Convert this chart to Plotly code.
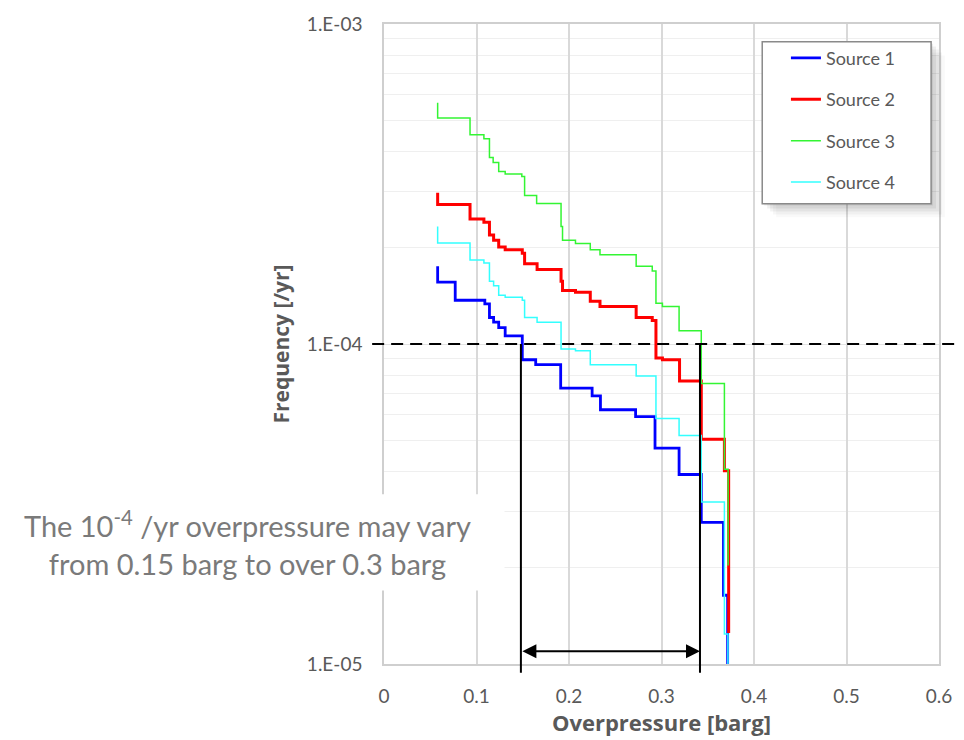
import math
import plotly.graph_objects as go

# ---------------- data ----------------
series_names = ["Source 1", "Source 2", "Source 3", "Source 4"]

src1_x = [0.058, 0.058, 0.077, 0.109, 0.114, 0.1185, 0.124, 0.131, 0.1495, 0.164, 0.191,
          0.225, 0.234, 0.272, 0.293, 0.319, 0.343, 0.367, 0.3715]
src1_y = [1.75e-4, 1.56e-4, 1.37e-4, 1.335e-4, 1.21e-4, 1.17e-4, 1.125e-4, 1.06e-4, 8.93e-5, 8.62e-5, 7.28e-5,
          6.88e-5, 6.23e-5, 5.93e-5, 4.73e-5, 3.91e-5, 2.77e-5, 1.64e-5, 9e-6]

src2_x = [0.058, 0.058, 0.093, 0.108, 0.114, 0.1185, 0.124, 0.131, 0.1495, 0.152, 0.1655, 0.1914,
          0.193, 0.207, 0.223, 0.2335, 0.2726, 0.290, 0.294, 0.301, 0.3195, 0.343, 0.368, 0.3726]
src2_y = [2.97e-4, 2.73e-4, 2.46e-4, 2.40e-4, 2.19e-4, 2.11e-4, 2.01e-4, 1.97e-4, 1.92e-4, 1.78e-4, 1.71e-4, 1.57e-4,
          1.47e-4, 1.45e-4, 1.36e-4, 1.31e-4, 1.21e-4, 1.185e-4, 9.04e-5, 8.93e-5, 7.66e-5, 5.04e-5, 4.02e-5, 1.25e-5]

src3_x = [0.058, 0.058, 0.093, 0.108, 0.114, 0.118, 0.124, 0.131, 0.149, 0.152, 0.165, 0.1914,
          0.193, 0.207, 0.223, 0.2335, 0.2726, 0.290, 0.294, 0.301, 0.319, 0.343, 0.368, 0.372]
src3_y = [5.67e-4, 5.08e-4, 4.51e-4, 4.38e-4, 3.83e-4, 3.69e-4, 3.46e-4, 3.40e-4, 3.34e-4, 2.91e-4, 2.75e-4, 2.33e-4,
          2.11e-4, 2.06e-4, 1.97e-4, 1.90e-4, 1.75e-4, 1.69e-4, 1.34e-4, 1.31e-4, 1.10e-4, 7.52e-5, 4.06e-5, 2.03e-5]

src4_x = [0.058, 0.058, 0.093, 0.108, 0.114, 0.1185, 0.124, 0.131, 0.1495, 0.152, 0.1655, 0.1914,
          0.207, 0.223, 0.2726, 0.294, 0.319, 0.343, 0.368, 0.3718]
src4_y = [2.33e-4, 2.07e-4, 1.83e-4, 1.79e-4, 1.57e-4, 1.52e-4, 1.42e-4, 1.40e-4, 1.37e-4, 1.21e-4, 1.17e-4, 9.64e-5,
          9.52e-5, 8.62e-5, 7.94e-5, 5.85e-5, 5.18e-5, 3.21e-5, 1.24e-5, 9e-6]

x_ticks = [0, 0.1, 0.2, 0.3, 0.4, 0.5, 0.6]
x_ticklabels = ["0", "0.1", "0.2", "0.3", "0.4", "0.5", "0.6"]
y_ticks = [1e-5, 1e-4, 1e-3]
y_ticklabels = ["1.E-05", "1.E-04", "1.E-03"]

threshold = 1e-4
range_low = 0.148
range_high = 0.3416
x_range = [0, 0.6]
y_range = [1e-5, 1e-3]

# ---------------- style ----------------
FONT = "Lato, 'Open Sans', sans-serif"
TITLE_FONT = "'Open Sans', Lato, sans-serif"
GREY = "#595959"
colors = ["#0000ff", "#ff0000", "#33f533", "#33ffff"]
widths = [2.8, 3.0, 1.5, 1.5]

W, H = 964, 740
ML, MR, MT, MB = 384, 18, 18, 70
PW, PH = W - ML - MR, H - MT - MB

def px_x(p):
    return (p - ML) / PW

def px_y(p):
    return (H - MB - p) / PH

fig = go.Figure()
xs = [src1_x, src2_x, src3_x, src4_x]
ys = [src1_y, src2_y, src3_y, src4_y]
for i in range(4):
    fig.add_trace(go.Scatter(
        x=xs[i], y=ys[i], mode="lines", name=series_names[i],
        line=dict(color=colors[i], width=widths[i], shape="hv"),
        legendgroup=series_names[i],
    ))

ly0, ly1 = math.log10(y_range[0]), math.log10(y_range[1])
thr_frac = (math.log10(threshold) - ly0) / (ly1 - ly0)

shapes = []
# legend shadow + box
lx0, lx1, lyt, lyb = 767, 938, 36, 201
for k, a in [(14, 0.025), (11, 0.035), (8, 0.05), (5, 0.06), (2, 0.07)]:
    shapes.append(dict(type="rect", xref="paper", yref="paper",
                       x0=px_x(lx0 + k), x1=px_x(lx1 + k), y0=px_y(lyb + k), y1=px_y(lyt + k),
                       line=dict(width=0), fillcolor=f"rgba(0,0,0,{a})", layer="above"))
shapes.append(dict(type="rect", xref="paper", yref="paper",
                   x0=px_x(lx0), x1=px_x(lx1), y0=px_y(lyb), y1=px_y(lyt),
                   line=dict(color="#8a8a8a", width=1.5), fillcolor="white", layer="above"))
# threshold dashed line
shapes.append(dict(type="line", xref="paper", yref="paper",
                   x0=px_x(372), x1=px_x(964), y0=thr_frac, y1=thr_frac,
                   line=dict(color="black", width=2, dash="12px,7px"), layer="above"))
# vertical bounds
for xv in (range_low, range_high):
    shapes.append(dict(type="line", xref="x", yref="paper",
                       x0=xv, x1=xv, y0=thr_frac, y1=px_y(679),
                       line=dict(color="black", width=2), layer="above"))
# white box behind note
shapes.append(dict(type="rect", xref="paper", yref="paper",
                   x0=px_x(0), x1=px_x(506), y0=px_y(595), y1=px_y(497),
                   line=dict(width=0), fillcolor="white", layer="above"))

annotations = [
    dict(xref="x", yref="paper", x=range_high, y=px_y(657), axref="x", ayref="pixel",
         ax=range_low, ay=0, text="", showarrow=True, arrowhead=2, startarrowhead=2,
         arrowside="end+start", arrowsize=1.4, startarrowsize=1.4, arrowwidth=2,
         arrowcolor="black", standoff=0, startstandoff=0),
    dict(xref="paper", yref="paper", x=px_x(246), y=px_y(547), xanchor="center", yanchor="middle",
         text="The 10<sup>-4</sup> /yr overpressure may vary<br>from 0.15 barg to over 0.3 barg",
         showarrow=False, align="center", font=dict(family=FONT, size=29, color="#7a7a7a")),
]

minor_y = [k * 10 ** e for e in (-5, -4) for k in range(2, 10)]

fig.update_layout(
    width=W, height=H,
    margin=dict(l=ML, r=MR, t=MT, b=MB),
    paper_bgcolor="white", plot_bgcolor="white",
    font=dict(family=FONT, color=GREY, size=18),
    showlegend=True,
    legend=dict(x=px_x(791), y=px_y(34), xanchor="left", yanchor="top",
                bgcolor="rgba(0,0,0,0)", borderwidth=0, tracegroupgap=15,
                font=dict(family=FONT, size=18, color=GREY), itemwidth=30),
    shapes=shapes,
    annotations=annotations,
    xaxis=dict(range=x_range, tickvals=x_ticks, ticktext=x_ticklabels,
               showgrid=True, gridcolor="#d9d9d9", gridwidth=1.5,
               showline=True, linecolor="#cfcfcf", linewidth=1.5, mirror=True,
               ticks="outside", ticklen=14, tickcolor="rgba(0,0,0,0)", zeroline=False,
               tickfont=dict(size=19, color=GREY),
               title=dict(text="<b>Overpressure [barg]</b>", standoff=6,
                          font=dict(family=TITLE_FONT, size=22, color=GREY))),
    yaxis=dict(type="log", range=[ly0, ly1], tickvals=y_ticks, ticktext=y_ticklabels,
               showgrid=True, gridcolor="#e3e3e3", gridwidth=1,
               showline=True, linecolor="#cfcfcf", linewidth=1.5, mirror=True,
               ticks="outside", ticklen=16, tickcolor="rgba(0,0,0,0)", zeroline=False,
               tickfont=dict(size=19, color=GREY),
               minor=dict(tickvals=minor_y, showgrid=True, gridcolor="#efefef", gridwidth=1, ticks=""),
               title=dict(text="<b>Frequency [/yr]</b>", standoff=12,
                          font=dict(family=TITLE_FONT, size=21, color=GREY))),
)

fig.write_html(
    "out.html",
    config={"displayModeBar": False},
    post_script=("document.documentElement.style.overflow='hidden';"
                 "document.body.style.margin='0';document.body.style.padding='0';"
                 "document.body.style.overflow='hidden';"),
)
